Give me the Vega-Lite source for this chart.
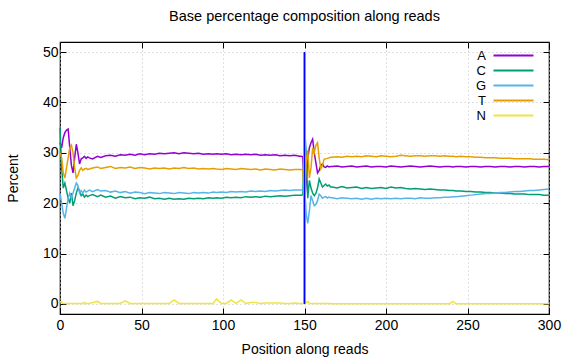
{
 "$schema": "https://vega.github.io/schema/vega-lite/v6.json",
 "width": 489, "height": 272,
 "autosize": {"type": "none"},
 "padding": {"left": 60, "top": 42, "right": 27, "bottom": 46},
 "background": "white",
 "title": {"text": "Base percentage composition along reads", "fontSize": 14.5, "fontWeight": "normal", "font": "Liberation Sans", "color": "#000", "offset": 17, "anchor": "middle"},
 "config": {
  "view": {"stroke": "#000", "strokeWidth": 1.2},
  "axis": {"labelFont": "Liberation Sans", "titleFont": "Liberation Sans", "labelFontSize": 14, "titleFontSize": 14, "titleFontWeight": "normal", "labelColor": "#000", "titleColor": "#000", "domain": false, "tickColor": "#000", "tickSize": -6, "tickWidth": 1, "labelFlush": false, "gridColor": "#c0c0c0", "gridDash": [1, 3]}
 },
 "layer": [
  {
   "data": {"values": [
    {"pos":0,"A":32,"C":35,"G":22,"T":30,"N":0.5},
    {"pos":1,"A":31,"C":27,"G":20,"T":29,"N":0.3},
    {"pos":2,"A":33,"C":23,"G":18,"T":26,"N":0.1},
    {"pos":3,"A":34,"C":24,"G":17,"T":25,"N":0.1},
    {"pos":4,"A":34.5,"C":22.5,"G":19,"T":27,"N":0.1},
    {"pos":5,"A":34.7,"C":21,"G":21,"T":29,"N":0.1},
    {"pos":6,"A":31,"C":20,"G":22,"T":31,"N":0.1},
    {"pos":7,"A":27.5,"C":22,"G":21,"T":31.5,"N":0.1},
    {"pos":8,"A":26,"C":19.5,"G":22,"T":30,"N":0.1},
    {"pos":9,"A":29,"C":20.5,"G":23,"T":27,"N":0.1},
    {"pos":10,"A":31.7,"C":22,"G":24,"T":25,"N":0.1},
    {"pos":11,"A":30,"C":23,"G":23.5,"T":25.5,"N":0.1},
    {"pos":12,"A":27.8,"C":22.5,"G":22,"T":26.5,"N":0.1},
    {"pos":13,"A":28.8,"C":21.5,"G":22.5,"T":27,"N":0.1},
    {"pos":14,"A":29,"C":21.8,"G":22,"T":26.5,"N":0.1},
    {"pos":15,"A":29.3,"C":21.2,"G":22.6,"T":26.8,"N":0.3},
    {"pos":16,"A":28.9,"C":21.6,"G":22.2,"T":26.9,"N":0.1},
    {"pos":17,"A":29.2,"C":21.3,"G":22.4,"T":26.7,"N":0.1},
    {"pos":18,"A":29.0,"C":21.5,"G":22.6,"T":26.8,"N":0.1},
    {"pos":20,"A":28.8,"C":21.7,"G":22.3,"T":27.0,"N":0.3},
    {"pos":23,"A":29.3,"C":21.3,"G":22.7,"T":27.2,"N":0.5},
    {"pos":25,"A":29.1,"C":21.6,"G":22.4,"T":26.9,"N":0.1},
    {"pos":28,"A":29.4,"C":21.2,"G":22.5,"T":27.1,"N":0.1},
    {"pos":31,"A":29.5,"C":21.4,"G":22.2,"T":27.3,"N":0.1},
    {"pos":34,"A":29.3,"C":21.0,"G":22.4,"T":26.9,"N":0.1},
    {"pos":37,"A":29.6,"C":21.3,"G":22.1,"T":27.1,"N":0.1},
    {"pos":40,"A":29.5,"C":21.1,"G":22.3,"T":27.0,"N":0.6},
    {"pos":43,"A":29.7,"C":21.2,"G":22.0,"T":27.2,"N":0.1},
    {"pos":46,"A":29.5,"C":20.9,"G":22.2,"T":26.9,"N":0.1},
    {"pos":49,"A":29.8,"C":21.1,"G":22.1,"T":27.1,"N":0.1},
    {"pos":52,"A":29.6,"C":21.0,"G":21.9,"T":27.0,"N":0.1},
    {"pos":55,"A":29.8,"C":21.2,"G":22.1,"T":26.8,"N":0.1},
    {"pos":58,"A":29.7,"C":20.9,"G":22.0,"T":27.0,"N":0.1},
    {"pos":61,"A":29.9,"C":21.0,"G":21.9,"T":26.9,"N":0.1},
    {"pos":64,"A":29.8,"C":20.8,"G":22.1,"T":27.0,"N":0.1},
    {"pos":67,"A":29.9,"C":21.0,"G":22.0,"T":26.8,"N":0.1},
    {"pos":70,"A":30.0,"C":20.8,"G":21.9,"T":27.0,"N":0.8},
    {"pos":73,"A":29.8,"C":20.9,"G":22.1,"T":26.9,"N":0.1},
    {"pos":76,"A":30.0,"C":20.8,"G":22.0,"T":27.1,"N":0.1},
    {"pos":79,"A":29.9,"C":21.0,"G":21.9,"T":26.9,"N":0.1},
    {"pos":82,"A":29.8,"C":20.9,"G":22.1,"T":27.0,"N":0.1},
    {"pos":85,"A":29.9,"C":21.0,"G":22.0,"T":26.8,"N":0.1},
    {"pos":88,"A":29.7,"C":20.9,"G":22.1,"T":26.9,"N":0.1},
    {"pos":91,"A":29.8,"C":21.1,"G":22.0,"T":26.8,"N":0.1},
    {"pos":94,"A":29.7,"C":21.0,"G":22.2,"T":26.9,"N":0.1},
    {"pos":96,"A":29.8,"C":21.1,"G":22.1,"T":26.8,"N":1.0},
    {"pos":99,"A":29.7,"C":21.0,"G":22.2,"T":26.7,"N":0.1},
    {"pos":102,"A":29.8,"C":21.2,"G":22.1,"T":26.9,"N":0.1},
    {"pos":105,"A":29.6,"C":21.1,"G":22.3,"T":26.8,"N":0.8},
    {"pos":108,"A":29.7,"C":21.2,"G":22.2,"T":26.7,"N":0.1},
    {"pos":111,"A":29.6,"C":21.1,"G":22.3,"T":26.9,"N":0.8},
    {"pos":114,"A":29.7,"C":21.3,"G":22.2,"T":26.8,"N":0.1},
    {"pos":117,"A":29.6,"C":21.2,"G":22.4,"T":26.7,"N":0.3},
    {"pos":120,"A":29.7,"C":21.3,"G":22.3,"T":26.8,"N":0.3},
    {"pos":123,"A":29.5,"C":21.2,"G":22.4,"T":26.6,"N":0.1},
    {"pos":126,"A":29.6,"C":21.4,"G":22.3,"T":26.8,"N":0.2},
    {"pos":129,"A":29.5,"C":21.3,"G":22.5,"T":26.7,"N":0.2},
    {"pos":132,"A":29.6,"C":21.4,"G":22.4,"T":26.6,"N":0.2},
    {"pos":135,"A":29.4,"C":21.5,"G":22.5,"T":26.8,"N":0.2},
    {"pos":138,"A":29.5,"C":21.4,"G":22.6,"T":26.7,"N":0.1},
    {"pos":141,"A":29.4,"C":21.5,"G":22.5,"T":26.6,"N":0.1},
    {"pos":144,"A":29.5,"C":21.6,"G":22.6,"T":26.7,"N":0.2},
    {"pos":147,"A":29.3,"C":21.6,"G":22.6,"T":26.7,"N":0.1},
    {"pos":148,"A":29.3,"C":21.6,"G":22.6,"T":26.7,"N":0.1},
    {"pos":149,"A":29.2,"C":21.7,"G":22.6,"T":26.6,"N":0.1},
    {"pos":150,"A":20.0,"C":35.5,"G":24.0,"T":21.0,"N":0.1},
    {"pos":151,"A":24,"C":30,"G":18,"T":28,"N":0.2},
    {"pos":152,"A":29,"C":21,"G":16,"T":30.5,"N":0.5},
    {"pos":153,"A":31,"C":24.5,"G":18.5,"T":25,"N":0.1},
    {"pos":154,"A":32,"C":23,"G":21.5,"T":27,"N":0.1},
    {"pos":155,"A":32.7,"C":22,"G":20.5,"T":31,"N":0.1},
    {"pos":156,"A":30,"C":21.5,"G":19.5,"T":30,"N":0.1},
    {"pos":157,"A":28,"C":22,"G":19.8,"T":31.5,"N":0.1},
    {"pos":158,"A":26,"C":23,"G":20.5,"T":32,"N":0.1},
    {"pos":159,"A":26.5,"C":24.8,"G":21.8,"T":29,"N":0.1},
    {"pos":160,"A":27.5,"C":24,"G":21.5,"T":26.8,"N":0.1},
    {"pos":161,"A":27.8,"C":23.2,"G":21,"T":27.5,"N":0.1},
    {"pos":162,"A":27.2,"C":23.5,"G":21.2,"T":28.7,"N":0.1},
    {"pos":163,"A":27.1,"C":23.8,"G":21.3,"T":28.8,"N":0.1},
    {"pos":164,"A":27.4,"C":23.4,"G":21.0,"T":28.9,"N":0.1},
    {"pos":165,"A":27.2,"C":23.6,"G":21.2,"T":29.0,"N":0.1},
    {"pos":166,"A":27.3,"C":23.2,"G":21.1,"T":29.1,"N":0.1},
    {"pos":167,"A":27.3,"C":23.2,"G":21.1,"T":29.1,"N":0.05},
    {"pos":170,"A":27.4,"C":23.0,"G":20.9,"T":29.2,"N":0.05},
    {"pos":173,"A":27.2,"C":23.3,"G":21.1,"T":29.1,"N":0.05},
    {"pos":176,"A":27.3,"C":23.0,"G":21.0,"T":29.3,"N":0.05},
    {"pos":179,"A":27.4,"C":23.1,"G":20.9,"T":29.2,"N":0.05},
    {"pos":182,"A":27.2,"C":23.2,"G":21.0,"T":29.3,"N":0.05},
    {"pos":185,"A":27.3,"C":22.9,"G":20.8,"T":29.2,"N":0.05},
    {"pos":188,"A":27.4,"C":23.1,"G":21.0,"T":29.4,"N":0.05},
    {"pos":191,"A":27.2,"C":22.9,"G":20.8,"T":29.3,"N":0.05},
    {"pos":194,"A":27.3,"C":23.0,"G":21.0,"T":29.2,"N":0.05},
    {"pos":197,"A":27.3,"C":23.1,"G":20.9,"T":29.4,"N":0.05},
    {"pos":200,"A":27.2,"C":22.9,"G":21.0,"T":29.3,"N":0.05},
    {"pos":203,"A":27.4,"C":23.2,"G":20.9,"T":29.2,"N":0.05},
    {"pos":206,"A":27.3,"C":23.0,"G":21.0,"T":29.3,"N":0.05},
    {"pos":209,"A":27.2,"C":23.1,"G":20.9,"T":29.5,"N":0.05},
    {"pos":212,"A":27.3,"C":22.9,"G":21.0,"T":29.4,"N":0.05},
    {"pos":215,"A":27.4,"C":22.8,"G":21.0,"T":29.3,"N":0.05},
    {"pos":218,"A":27.3,"C":22.9,"G":20.9,"T":29.4,"N":0.05},
    {"pos":221,"A":27.2,"C":22.8,"G":21.1,"T":29.4,"N":0.05},
    {"pos":224,"A":27.3,"C":22.7,"G":21.0,"T":29.3,"N":0.05},
    {"pos":227,"A":27.4,"C":22.8,"G":21.0,"T":29.4,"N":0.05},
    {"pos":230,"A":27.3,"C":22.7,"G":21.1,"T":29.4,"N":0.05},
    {"pos":233,"A":27.2,"C":22.6,"G":21.1,"T":29.3,"N":0.05},
    {"pos":236,"A":27.3,"C":22.6,"G":21.2,"T":29.4,"N":0.05},
    {"pos":239,"A":27.3,"C":22.5,"G":21.2,"T":29.3,"N":0.05},
    {"pos":241,"A":27.2,"C":22.5,"G":21.3,"T":29.3,"N":0.5},
    {"pos":243,"A":27.3,"C":22.4,"G":21.3,"T":29.2,"N":0.05},
    {"pos":246,"A":27.3,"C":22.4,"G":21.4,"T":29.3,"N":0.05},
    {"pos":249,"A":27.2,"C":22.3,"G":21.5,"T":29.2,"N":0.05},
    {"pos":252,"A":27.3,"C":22.3,"G":21.6,"T":29.2,"N":0.05},
    {"pos":255,"A":27.3,"C":22.2,"G":21.7,"T":29.1,"N":0.05},
    {"pos":258,"A":27.2,"C":22.2,"G":21.8,"T":29.1,"N":0.05},
    {"pos":261,"A":27.3,"C":22.1,"G":21.9,"T":29.0,"N":0.05},
    {"pos":264,"A":27.3,"C":22.1,"G":21.9,"T":29.0,"N":0.05},
    {"pos":267,"A":27.2,"C":22.0,"G":22.0,"T":29.0,"N":0.05},
    {"pos":270,"A":27.3,"C":22.0,"G":22.1,"T":28.9,"N":0.05},
    {"pos":273,"A":27.3,"C":21.9,"G":22.1,"T":28.9,"N":0.05},
    {"pos":276,"A":27.2,"C":21.9,"G":22.2,"T":28.9,"N":0.05},
    {"pos":279,"A":27.3,"C":21.8,"G":22.3,"T":28.8,"N":0.05},
    {"pos":282,"A":27.3,"C":21.8,"G":22.3,"T":28.8,"N":0.05},
    {"pos":285,"A":27.2,"C":21.8,"G":22.4,"T":28.8,"N":0.05},
    {"pos":288,"A":27.3,"C":21.7,"G":22.5,"T":28.8,"N":0.05},
    {"pos":291,"A":27.3,"C":21.7,"G":22.5,"T":28.7,"N":0.05},
    {"pos":294,"A":27.2,"C":21.7,"G":22.6,"T":28.7,"N":0.05},
    {"pos":297,"A":27.3,"C":21.6,"G":22.7,"T":28.7,"N":0.05},
    {"pos":300,"A":27.3,"C":21.6,"G":22.8,"T":28.6,"N":0.05}
   ]},
   "transform": [{"fold": ["A", "C", "G", "T", "N"], "as": ["base", "pct"]}],
   "mark": {"type": "line", "strokeWidth": 1.5},
   "encoding": {
    "x": {"field": "pos", "type": "quantitative", "scale": {"domain": [0, 300], "nice": false, "zero": false},
          "axis": {"values": [0, 50, 100, 150, 200, 250, 300], "title": "Position along reads", "grid": true, "labelPadding": 10, "titlePadding": 10}},
    "y": {"field": "pct", "type": "quantitative", "scale": {"domain": [-2, 52], "nice": false, "zero": false},
          "axis": {"values": [0, 10, 20, 30, 40, 50], "title": "Percent", "grid": true, "labelPadding": 8, "titlePadding": 22}},
    "color": {"field": "base", "type": "nominal",
              "scale": {"domain": ["A", "C", "G", "T", "N"], "range": ["#9400d3", "#009e73", "#56b4e9", "#e69f00", "#f0e442"]},
              "legend": {"orient": "none", "legendX": 447, "legendY": 7, "title": null, "symbolType": "M-4,0H4", "symbolSize": 100, "symbolStrokeWidth": 2, "rowPadding": 1, "labelAlign": "right", "labelOffset": -34, "labelFontSize": 13, "labelFont": "Liberation Sans", "labelColor": "#000"}}
   }
  },
  {
   "data": {"values": [{"pos": 150, "lo": 0, "hi": 50}]},
   "mark": {"type": "rule", "color": "#8c8cff", "strokeWidth": 3},
   "encoding": {
    "x": {"field": "pos", "type": "quantitative", "scale": {"domain": [0, 300], "nice": false, "zero": false},
          "axis": {"orient": "top", "values": [0, 50, 100, 150, 200, 250, 300], "labels": false, "title": null, "grid": false}},
    "y": {"field": "lo", "type": "quantitative", "scale": {"domain": [-2, 52], "nice": false, "zero": false},
          "axis": {"orient": "right", "values": [0, 10, 20, 30, 40, 50], "labels": false, "title": null, "grid": false}},
    "y2": {"field": "hi"}
   }
  },
  {
   "data": {"values": [{"pos": 150, "lo": 0, "hi": 50}]},
   "mark": {"type": "rule", "color": "#0000ff", "strokeWidth": 1},
   "encoding": {
    "x": {"field": "pos", "type": "quantitative", "scale": {"domain": [0, 300], "nice": false, "zero": false}, "axis": null},
    "y": {"field": "lo", "type": "quantitative", "scale": {"domain": [-2, 52], "nice": false, "zero": false}, "axis": null},
    "y2": {"field": "hi"}
   }
  }
 ],
 "resolve": {"axis": {"x": "independent", "y": "independent"}}
}
